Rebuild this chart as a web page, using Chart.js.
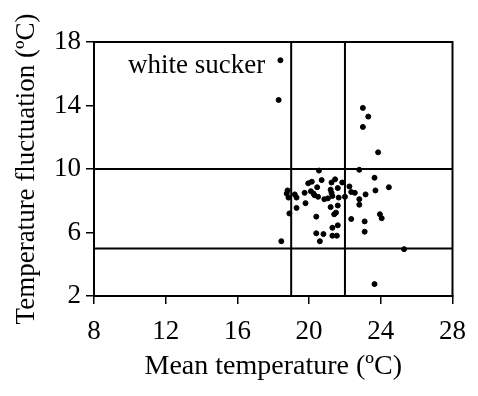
<!DOCTYPE html>
<html>
<head>
<meta charset="utf-8">
<script src="https://cdn.jsdelivr.net/npm/chart.js@4"></script>
<style>
  body { margin: 0; background: #fff; }
  #wrap { width: 478px; height: 396px; }
</style>
</head>
<body>
<div id="wrap"><canvas id="chart" width="478" height="396"></canvas></div>
<script>
// mean temperature (x) and temperature fluctuation (y)
const meanTemp = [
  18.4, 18.3, 23.0, 23.3, 23.0, 23.85, 20.55, 22.8, 23.65, 24.45,
  23.7, 23.15, 22.8, 22.8, 25.3, 23.65, 23.95, 24.05, 23.1, 23.1,
  22.35, 18.45, 18.9, 19.3, 19.8, 20.4, 20.4, 20.6, 20.8, 21.3,
  21.55, 21.3, 21.6, 21.4, 21.5, 21.2, 21.6, 18.8, 18.75, 18.85,
  19.2, 19.3, 19.95, 20.1, 20.25, 20.15, 20.7, 21.25, 21.45, 20.45,
  21.2, 21.25, 21.3, 21.6, 21.65, 20.85, 21.85, 22.25, 22.35, 22.55,
  22.0, 20.3, 20.5, 19.75, 21.05
];
const fluctuation = [
  16.85, 14.35, 13.85, 13.3, 12.65, 11.05, 9.9, 9.95, 9.45, 8.85,
  8.65, 8.4, 8.1, 7.75, 4.95, 2.75, 7.15, 6.9, 6.7, 6.05,
  6.85, 5.45, 7.2, 7.55, 7.85, 7.0, 5.95, 5.45, 5.9, 5.8,
  5.8, 6.3, 6.45, 7.15, 7.25, 7.6, 7.7, 8.65, 8.45, 8.2,
  8.4, 8.2, 9.1, 8.6, 8.45, 9.2, 9.3, 9.15, 9.35, 8.85,
  8.7, 8.5, 8.3, 8.8, 8.2, 8.1, 9.15, 8.9, 8.55, 8.5,
  8.25, 8.35, 8.25, 8.5, 8.15
];
const xTicks = [8, 12, 16, 20, 24, 28];
const yTicks = [2, 6, 10, 14, 18];
const refX = [19, 22];
const refY = [5, 10];
const label = "white sucker";

const serif = "'Liberation Serif', 'DejaVu Serif', serif";

const points = meanTemp.map((x, i) => ({ x: x, y: fluctuation[i] }));

const datasets = [{
  type: "scatter",
  data: points,
  backgroundColor: "#000",
  borderColor: "#000",
  pointRadius: 2.5,
  pointHoverRadius: 2.5
}];
refX.forEach(v => {
  datasets.push({
    type: "line",
    data: [{ x: v, y: yTicks[0] }, { x: v, y: yTicks[yTicks.length - 1] }],
    borderColor: "#000",
    borderWidth: 2,
    pointRadius: 0
  });
});
refY.forEach(v => {
  datasets.push({
    type: "line",
    data: [{ x: xTicks[0], y: v }, { x: xTicks[xTicks.length - 1], y: v }],
    borderColor: "#000",
    borderWidth: 2,
    pointRadius: 0
  });
});

// frame around the plot and the species label
const extras = {
  id: "extras",
  afterDatasetsDraw(chart) {
    const ctx = chart.ctx;
    const a = chart.chartArea;
    const xs = chart.scales.x, ys = chart.scales.y;
    ctx.save();
    ctx.strokeStyle = "#000";
    ctx.lineWidth = 2;
    ctx.strokeRect(a.left, a.top, a.right - a.left, a.bottom - a.top);
    ctx.fillStyle = "#000";
    ctx.font = "27px " + serif;
    ctx.textAlign = "right";
    ctx.textBaseline = "middle";
    ctx.fillText(label, xs.getPixelForValue(17.55), ys.getPixelForValue(16.5));
    ctx.restore();
  }
};

new Chart(document.getElementById("chart"), {
  data: { datasets: datasets },
  plugins: [extras],
  options: {
    responsive: false,
    animation: false,
    layout: { padding: { top: 42, right: 25, left: 0, bottom: 0 } },
    plugins: { legend: { display: false }, tooltip: { enabled: false } },
    scales: {
      x: {
        type: "linear",
        min: 8, max: 28,
        afterBuildTicks: s => { s.ticks = xTicks.map(v => ({ value: v })); },
        afterFit: s => { s.height = 100; },
        border: { color: "#000", width: 2 },
        grid: { drawOnChartArea: false, color: "#000", tickLength: 8, lineWidth: 1.5 },
        ticks: { color: "#000", font: { family: serif, size: 27 }, padding: 12, maxRotation: 0 },
        title: {
          display: true,
          text: "Mean temperature (ºC)",
          color: "#000",
          font: { family: serif, size: 28 },
          padding: { top: 0, bottom: 13 }
        }
      },
      y: {
        type: "linear",
        min: 2, max: 18,
        afterBuildTicks: s => { s.ticks = yTicks.map(v => ({ value: v })); },
        afterFit: s => { s.width = 94; },
        border: { color: "#000", width: 2 },
        grid: { drawOnChartArea: false, color: "#000", tickLength: 8, lineWidth: 1.5 },
        ticks: { color: "#000", font: { family: serif, size: 27 }, padding: 5 },
        title: {
          display: true,
          text: "Temperature fluctuation (ºC)",
          color: "#000",
          font: { family: serif, size: 27 },
          padding: { top: 11, bottom: 0 }
        }
      }
    }
  }
});
</script>
</body>
</html>
